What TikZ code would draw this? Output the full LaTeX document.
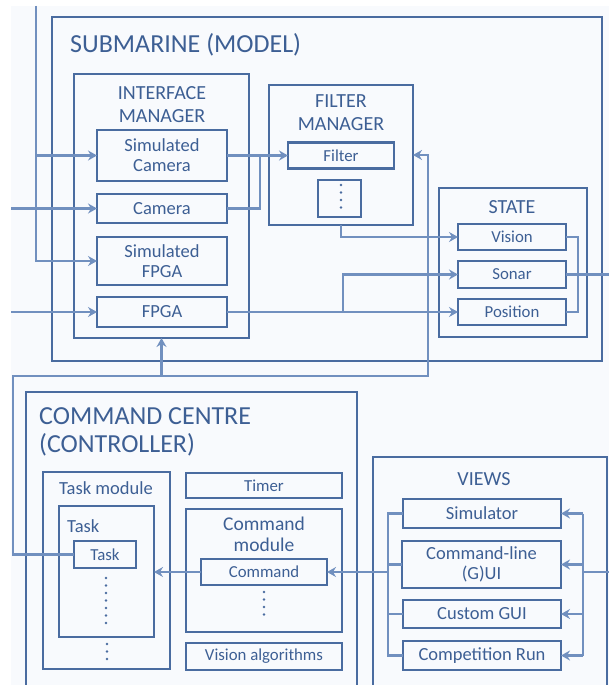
\documentclass[tikz,border=0pt]{standalone}
\usepackage{fontspec}
\setmainfont{Carlito}
\usetikzlibrary{arrows.meta}
\definecolor{bgc}{HTML}{F8FAFD}
\definecolor{boxc}{HTML}{4A6CA0}
\definecolor{txtc}{HTML}{3D5F94}
\definecolor{linec}{HTML}{7190BF}
\begin{document}
\begin{tikzpicture}[x=1pt,y=-1pt,
  container/.style={draw=boxc, line width=1.6pt, inner sep=0pt, outer sep=0pt},
  item/.style={draw=boxc, line width=2.3pt, text=txtc, align=center, inner sep=0pt, outer sep=0pt, font=\fontsize{18.5}{20}\selectfont},
  smallitem/.style={item, font=\fontsize{16.8}{19}\selectfont},
  bigtitle/.style={text=txtc, font=\fontsize{26}{28}\selectfont, align=left, inner sep=0pt},
  midtitle/.style={text=txtc, font=\fontsize{20}{23}\selectfont, align=center, inner sep=0pt},
  subtitle/.style={text=txtc, font=\fontsize{18.5}{21}\selectfont, align=center, inner sep=0pt},
  conn/.style={draw=linec, line width=2.2pt},
  arr/.style={conn, -{Stealth[length=9pt,width=10pt,inset=3pt]}},
  dotline/.style={draw=boxc, line width=2.6pt, line cap=round, dash pattern=on 0pt off 7.5pt}
]
\useasboundingbox (0,0) rectangle (609,685);
\clip (0,0) rectangle (609,685);
\fill[bgc] (11,6) rectangle (609,685);

% ---------- Submarine ----------
\node[container, line width=2.2pt, minimum width=550pt, minimum height=344pt] (sub) at (327,189) {};
\node[bigtitle, anchor=west] (subtitle) at (70,45) {SUBMARINE (MODEL)};

\node[container, minimum width=175pt, minimum height=264pt] (intmgr) at (161.5,206) {};
\node[midtitle] (inttitle) at (162,105) {INTERFACE\\MANAGER};
\node[item, minimum width=130pt, minimum height=51pt] (simcam) at (162,155.5) {Simulated\\Camera};
\node[item, minimum width=130pt, minimum height=29pt] (camera) at (162,208.5) {Camera};
\node[item, minimum width=130pt, minimum height=48pt] (simfpga) at (162,261) {Simulated\\FPGA};
\node[item, minimum width=130pt, minimum height=30pt] (fpga) at (162,312) {FPGA};

\node[container, minimum width=144pt, minimum height=140pt] (filtmgr) at (341,155) {};
\node[midtitle] (filttitle) at (341,113) {FILTER\\MANAGER};
\node[smallitem, minimum width=106pt, minimum height=26pt] (filter) at (341,155.5) {Filter};
\node[item, minimum width=43pt, minimum height=37pt] (filtdots) at (339.5,198.5) {};
\draw[dotline] (341,185) -- (341,213);

\node[container, minimum width=148pt, minimum height=149pt] (state) at (513,262.5) {};
\node[midtitle] (statetitle) at (512,207) {STATE};
\node[smallitem, minimum width=108pt, minimum height=26pt] (vision) at (512,237) {Vision};
\node[smallitem, minimum width=108pt, minimum height=27pt] (sonar) at (512,274.5) {Sonar};
\node[smallitem, minimum width=108pt, minimum height=26pt] (position) at (512,312) {Position};

% ---------- Command centre ----------
\node[container, minimum width=331pt, minimum height=330pt, anchor=north west] (cc) at (26,392) {};
\node[bigtitle, anchor=west] (cctitle) at (39,432) {COMMAND CENTRE\\(CONTROLLER)};

\node[container, minimum width=127pt, minimum height=197pt] (taskmod) at (106.5,570.5) {};
\node[subtitle] (taskmodtitle) at (106,488) {Task module};
\node[item, minimum width=95pt, minimum height=131pt] (taskbox) at (106.5,571.5) {};
\node[subtitle, anchor=west] (tasktitle) at (67,526) {Task};
\node[smallitem, minimum width=62pt, minimum height=27pt] (taskin) at (105,554.5) {Task};
\draw[dotline] (106,578) -- (106,628);
\draw[dotline] (107,644) -- (107,660);

\node[smallitem, line width=1.7pt, minimum width=156pt, minimum height=25pt] (timer) at (264,485.5) {Timer};
\node[container, line width=1.8pt, minimum width=156pt, minimum height=123pt] (cmdmod) at (264,570.5) {};
\node[midtitle, font=\fontsize{19.5}{21}\selectfont] (cmdmodtitle) at (264,534) {Command\\module};
\node[smallitem, minimum width=126pt, minimum height=26pt] (command) at (264,572) {Command};
\draw[dotline] (264,592) -- (264,622);
\node[smallitem, minimum width=156pt, minimum height=27pt] (visalg) at (264,656.5) {Vision algorithms};

% ---------- Views ----------
\node[container, minimum width=234pt, minimum height=300pt, anchor=north west] (views) at (373,457) {};
\node[midtitle] (viewstitle) at (484,479) {VIEWS};
\node[item, minimum width=158pt, minimum height=29pt] (simulator) at (482,513.5) {Simulator};
\node[item, minimum width=159pt, minimum height=47pt] (cmdline) at (481.5,564.5) {Command-line\\(G)UI};
\node[item, minimum width=158pt, minimum height=28pt] (customgui) at (482,614) {Custom GUI};
\node[item, minimum width=158pt, minimum height=29pt] (comprun) at (482,655.5) {Competition Run};

% ---------- Connectors ----------
\coordinate (topin) at (36,6);
\coordinate (camin) at (11,208.5);
\coordinate (fpgain) at (11,312);
\draw[arr] (topin) |- (simcam.west);
\draw[arr] (topin) |- (simfpga.west);
\draw[arr] (camin) -- (camera.west);
\draw[arr] (fpgain) -- (fpga.west);
\draw[arr] (simcam.east) -- (filter.west);
\coordinate (camj) at (260,155.5);
\draw[conn] (camera.east) -| (camj);
\draw[arr] (fpga.east) -- (position.west);
\coordinate (fpgaj) at (343,312);
\draw[arr] (fpgaj) |- (sonar.west);
\draw[arr] (filtmgr.south) |- (vision.west);
\coordinate (stj) at (578,237);
\draw[conn] (vision.east) -- (stj) |- (position.east);
\coordinate (sonarout) at (609,274.5);
\draw[conn] (sonar.east) -- (sonarout);

\coordinate (loopl) at (13,376);
\coordinate (loopr) at (428,376);
\draw[arr] (taskin.west) -| (loopl) -- (loopr) |- (filtmgr.east);
\coordinate (loopm) at (161.5,376);
\draw[arr] (loopm) -- (intmgr.south);

\draw[arr] (command.west) -- (command.west -| taskbox.east);

\coordinate (vl) at (388,572);
\coordinate (vlb) at (388,655.5);
\draw[arr] (vl) -- (command.east);
\draw[conn] (simulator.west) -| (vlb) -- (comprun.west);
\draw[conn] (cmdline.west -| vl) -- (cmdline.west);
\draw[conn] (customgui.west -| vl) -- (customgui.west);

\coordinate (vr) at (583,572);
\coordinate (viewsin) at (609,572);
\draw[conn] (viewsin) -- (vr);
\draw[conn] (vr |- simulator.east) -- (vr |- comprun.east);
\draw[arr] (vr |- simulator.east) -- (simulator.east);
\draw[arr] (vr |- cmdline.east) -- (cmdline.east);
\draw[arr] (vr |- customgui.east) -- (customgui.east);
\draw[arr] (vr |- comprun.east) -- (comprun.east);
\end{tikzpicture}
\end{document}
